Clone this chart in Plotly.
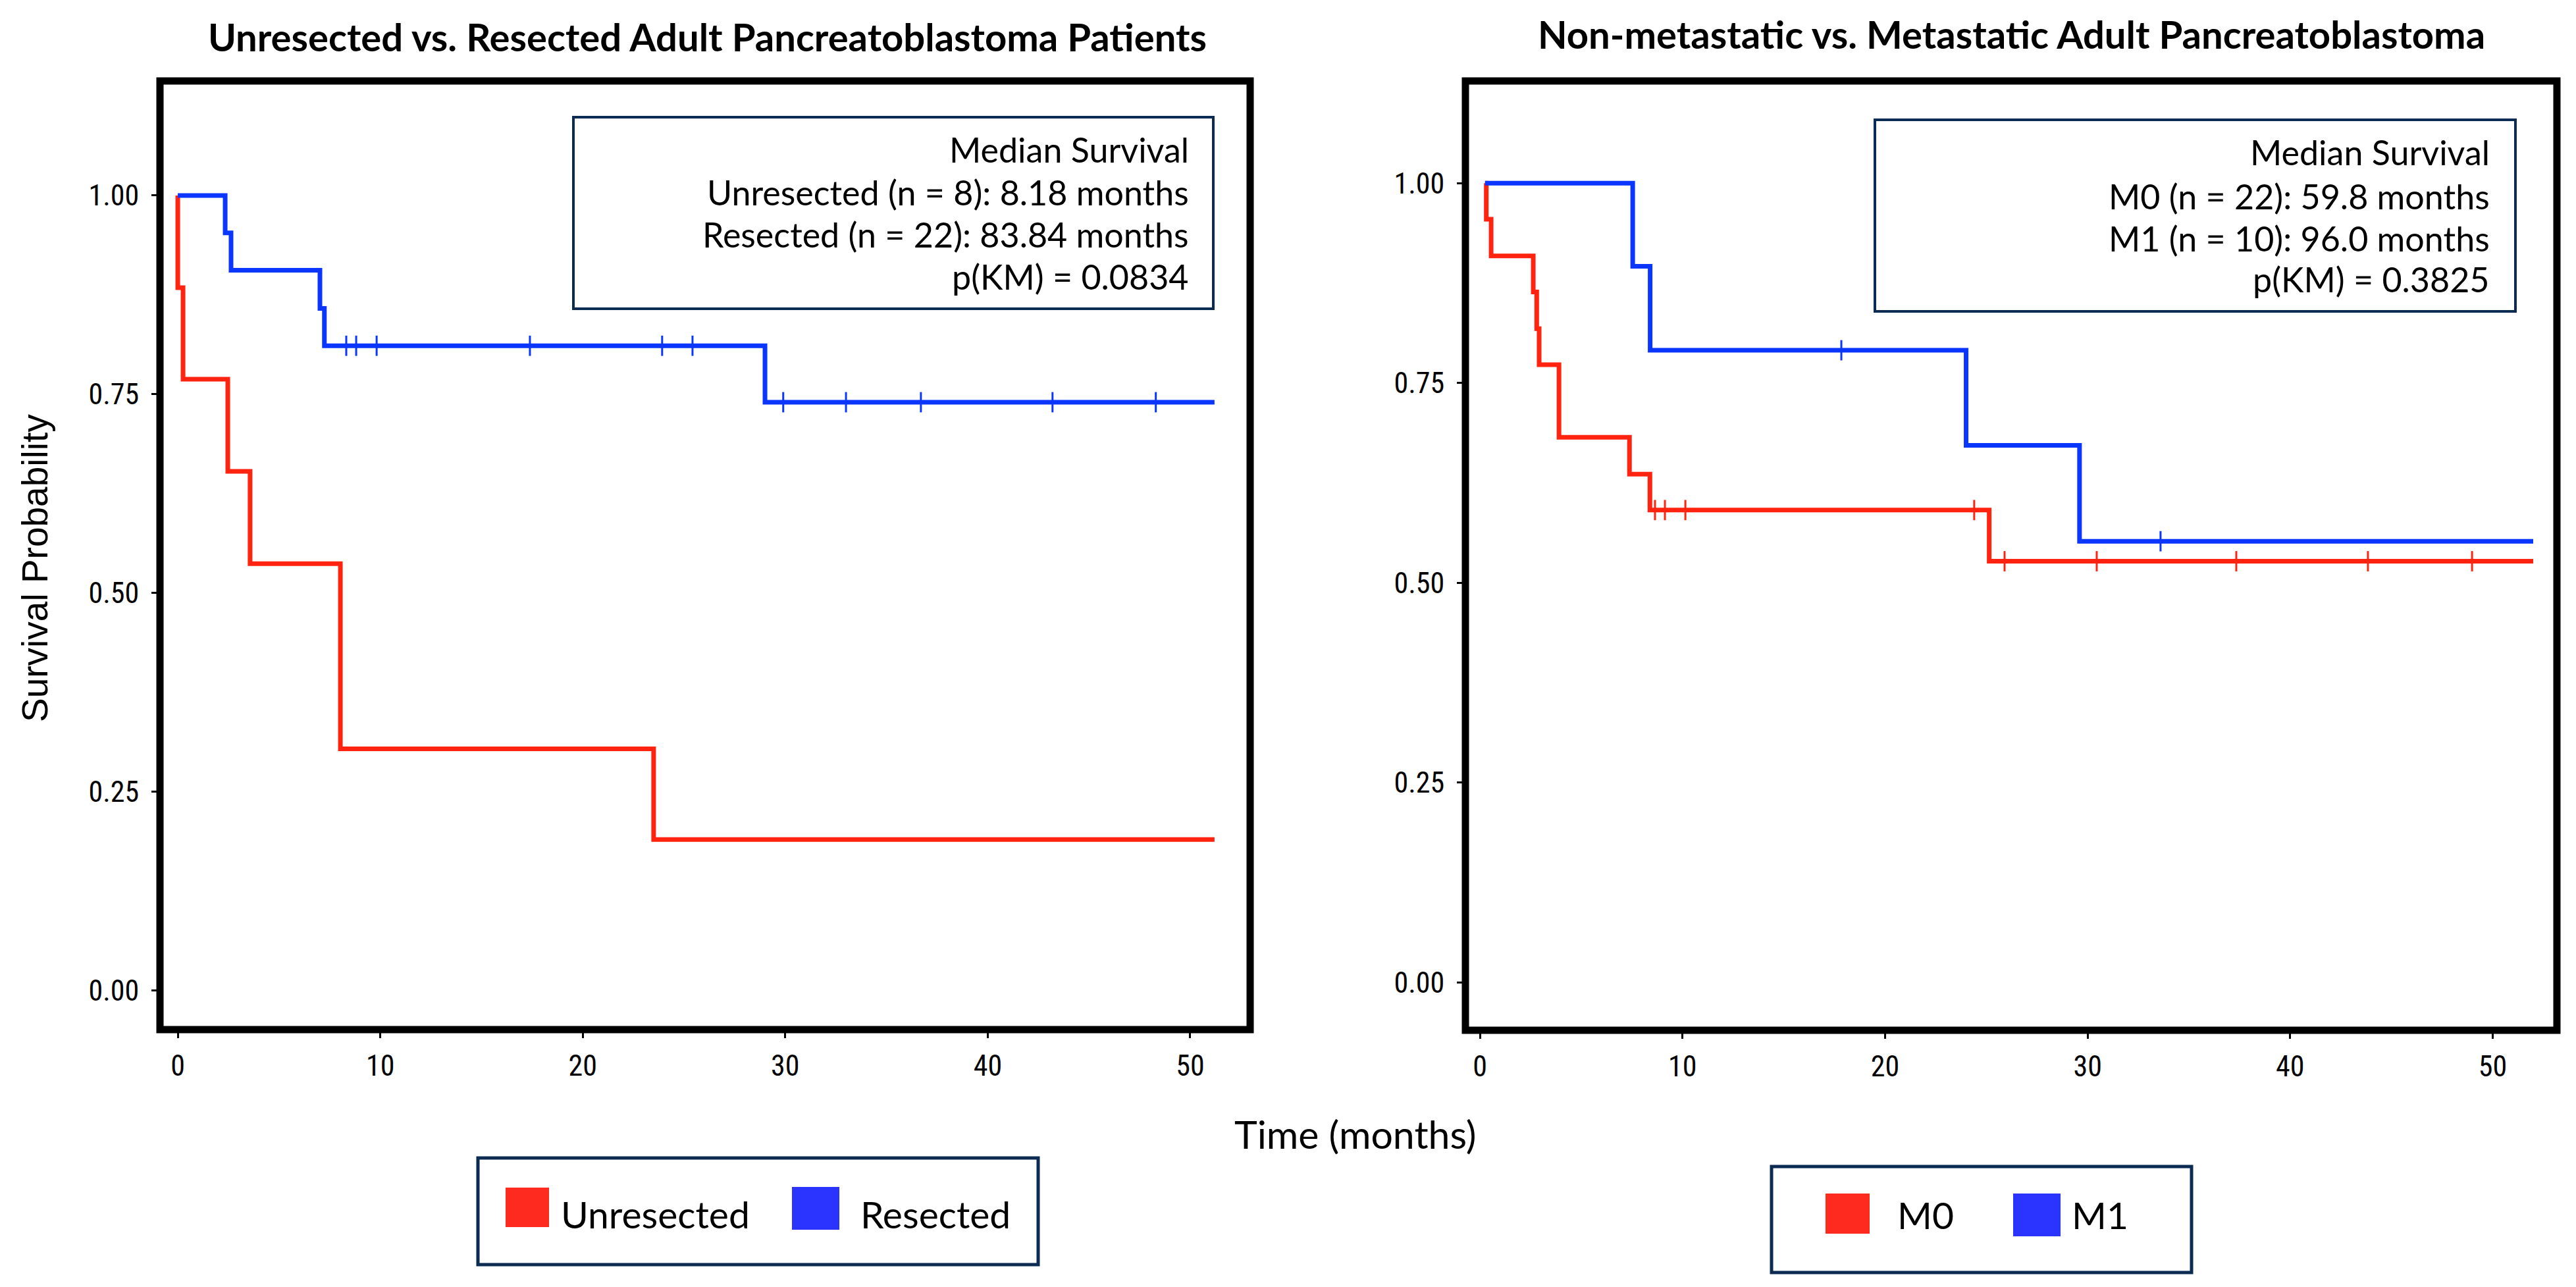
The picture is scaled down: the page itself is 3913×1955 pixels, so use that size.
import plotly.graph_objects as go

# ---------------- data ----------------
# Left panel: Unresected vs Resected
unres_times = [0.0, 0.26, 2.47, 3.57, 8.03, 23.5]
unres_surv = [0.884, 0.769, 0.653, 0.537, 0.304, 0.19]
unres_start = 0.0
unres_end = 51.2
unres_censor = []

res_times = [2.34, 2.63, 7.02, 7.24, 29.0]
res_surv = [0.953, 0.906, 0.858, 0.811, 0.74]
res_start = 0.0
res_end = 51.2
res_censor = [8.32, 8.81, 9.82, 17.39, 23.92, 25.42, 29.9, 33.0, 36.7, 43.2, 48.3]

# Right panel: M0 vs M1
m0_times = [0.31, 0.55, 2.63, 2.80, 2.92, 3.90, 7.38, 8.39, 25.14]
m0_surv = [0.955, 0.909, 0.864, 0.818, 0.773, 0.682, 0.636, 0.591, 0.527]
m0_start = 0.25
m0_end = 52.0
m0_censor = [8.64, 9.13, 10.14, 24.4, 25.9, 30.45, 37.34, 43.84, 48.98]

m1_times = [7.54, 8.40, 24.0, 29.6]
m1_surv = [0.896, 0.791, 0.672, 0.552]
m1_start = 0.25
m1_end = 52.0
m1_censor = [17.84, 33.6]

left_title = "Unresected vs. Resected Adult Pancreatoblastoma Patients"
right_title = "Non-metastatic vs. Metastatic Adult Pancreatoblastoma"
left_info = ["Median Survival", "Unresected (n = 8): 8.18 months",
             "Resected (n = 22): 83.84 months", "p(KM) = 0.0834"]
right_info = ["Median Survival", "M0 (n = 22): 59.8 months",
              "M1 (n = 10): 96.0 months", "p(KM) = 0.3825"]
left_groups = ["Unresected", "Resected"]
right_groups = ["M0", "M1"]
x_ticks = [0, 10, 20, 30, 40, 50]
y_ticks = [0.0, 0.25, 0.5, 0.75, 1.0]
y_title = "Survival Probability"
x_title = "Time (months)"

# ---------------- style ----------------
W, H = 3913, 1955
RED = "#ff2310"
BLUE = "#0a36ff"
RED_SW = "#ff2a1f"
BLUE_SW = "#2b33ff"
NAVY = "#0b2b52"
CAL = "Lato, Open Sans, sans-serif"
NARROW = "Liberation Sans Narrow, Arial Narrow, Roboto Condensed, Liberation Sans, Arial, sans-serif"
ARIAL = "Liberation Sans, Arial, sans-serif"


def px(x):
    return x / W


def py(y):
    return 1 - y / H


def step_xy(start, times, surv, end):
    xs, ys = [start], [1.0]
    for t, s in zip(times, surv):
        xs.append(t)
        ys.append(s)
    xs.append(end)
    ys.append(surv[-1])
    return xs, ys


def surv_at(t, times, surv):
    v = 1.0
    for ti, si in zip(times, surv):
        if ti <= t:
            v = si
    return v


fig = go.Figure()


def add_group(start, times, surv, end, censor, color, name, xa, ya):
    xs, ys = step_xy(start, times, surv, end)
    fig.add_trace(go.Scatter(x=xs, y=ys, mode="lines", line=dict(color=color, width=7, shape="hv"),
                             name=name, showlegend=False, xaxis=xa, yaxis=ya))
    if censor:
        fig.add_trace(go.Scatter(x=censor, y=[surv_at(c, times, surv) for c in censor], mode="markers",
                                 marker=dict(symbol="line-ns", size=22, color=color,
                                             line=dict(color=color, width=3)),
                                 showlegend=False, xaxis=xa, yaxis=ya))


add_group(unres_start, unres_times, unres_surv, unres_end, unres_censor, RED, left_groups[0], "x", "y")
add_group(res_start, res_times, res_surv, res_end, res_censor, BLUE, left_groups[1], "x", "y")
add_group(m0_start, m0_times, m0_surv, m0_end, m0_censor, RED, right_groups[0], "x2", "y2")
add_group(m1_start, m1_times, m1_surv, m1_end, m1_censor, BLUE, right_groups[1], "x2", "y2")

tickfont = dict(family=NARROW, size=44, color="black")
xcommon = dict(tickmode="array", tickvals=x_ticks, ticks="outside", ticklen=12, tickwidth=3,
               tickcolor="black", showgrid=False, zeroline=False, showline=False,
               tickfont=tickfont, ticklabelstandoff=4)
ycommon = dict(tickmode="array", tickvals=y_ticks, ticktext=["%.2f" % v for v in y_ticks],
               ticks="outside", ticklen=12, tickwidth=3, tickcolor="black", showgrid=False,
               zeroline=False, showline=False, tickfont=tickfont, ticklabelstandoff=10)

fig.update_layout(
    width=W, height=H, margin=dict(l=0, r=0, t=0, b=0),
    paper_bgcolor="white", plot_bgcolor="white", showlegend=False,
    xaxis=dict(domain=[px(235), px(1891)], range=[-0.88, 52.96], anchor="y", **xcommon),
    yaxis=dict(domain=[py(1556), py(115)], range=[-0.049, 1.144], anchor="x", **ycommon),
    xaxis2=dict(domain=[px(2218), px(3876)], range=[-0.72, 53.17], anchor="y2", **xcommon),
    yaxis2=dict(domain=[py(1557), py(115)], range=[-0.060, 1.128], anchor="x2", **ycommon),
)

shapes = []
# panel frames
for xr, yr in [("x domain", "y domain"), ("x2 domain", "y2 domain")]:
    shapes.append(dict(type="rect", xref=xr, yref=yr, x0=0, x1=1, y0=0, y1=1,
                       line=dict(color="black", width=11), fillcolor="rgba(0,0,0,0)", layer="above"))

annotations = []


def info_box(x0, x1, y0, y1, text_right, ys, lines):
    shapes.append(dict(type="rect", xref="paper", yref="paper", x0=px(x0), x1=px(x1), y0=py(y1), y1=py(y0),
                       line=dict(color=NAVY, width=4), fillcolor="white", layer="above"))
    for yy, t in zip(ys, lines):
        annotations.append(dict(x=px(text_right), y=py(yy), xref="paper", yref="paper", text=t,
                                showarrow=False, xanchor="right", yanchor="middle",
                                font=dict(family=CAL, size=52, color="black")))


info_box(863, 1835, 170, 461, 1800, [219, 284, 348, 412], left_info)
info_box(2840, 3813, 174, 465, 3776, [223, 290, 354, 416], right_info)

# titles
annotations.append(dict(x=px(1066), y=py(48), xref="paper", yref="paper", text="<b>%s</b>" % left_title,
                        showarrow=False, xanchor="center", yanchor="middle",
                        font=dict(family=CAL, size=58, color="black")))
annotations.append(dict(x=px(3047), y=py(43), xref="paper", yref="paper", text="<b>%s</b>" % right_title,
                        showarrow=False, xanchor="center", yanchor="middle",
                        font=dict(family=CAL, size=58, color="black")))
# axis titles
annotations.append(dict(x=px(45), y=py(855), xref="paper", yref="paper", text=y_title, textangle=-90,
                        showarrow=False, xanchor="center", yanchor="middle",
                        font=dict(family=ARIAL, size=55, color="black")))
annotations.append(dict(x=px(2050), y=py(1714), xref="paper", yref="paper", text=x_title,
                        showarrow=False, xanchor="center", yanchor="middle",
                        font=dict(family=CAL, size=59, color="black")))


def legend_box(box, items):
    x0, x1, y0, y1 = box
    shapes.append(dict(type="rect", xref="paper", yref="paper", x0=px(x0), x1=px(x1), y0=py(y1), y1=py(y0),
                       line=dict(color=NAVY, width=5), fillcolor="white", layer="above"))
    for (sx0, sx1, sy0, sy1, color, label, tx, ty) in items:
        shapes.append(dict(type="rect", xref="paper", yref="paper", x0=px(sx0), x1=px(sx1), y0=py(sy1),
                           y1=py(sy0), line=dict(width=0), fillcolor=color, layer="above"))
        annotations.append(dict(x=px(tx), y=py(ty), xref="paper", yref="paper", text=label,
                                showarrow=False, xanchor="left", yanchor="middle",
                                font=dict(family=CAL, size=57, color="black")))


legend_box((718, 1569, 1751, 1913), [
    (760, 826, 1796, 1856, RED_SW, left_groups[0], 842, 1836),
    (1195, 1267, 1795, 1860, BLUE_SW, left_groups[1], 1297, 1836),
])
legend_box((2683, 3321, 1764, 1925), [
    (2765, 2832, 1805, 1866, RED_SW, right_groups[0], 2872, 1837),
    (3050, 3122, 1805, 1870, BLUE_SW, right_groups[1], 3137, 1837),
])

fig.update_layout(shapes=shapes, annotations=annotations)
fig.write_html("out.html")
